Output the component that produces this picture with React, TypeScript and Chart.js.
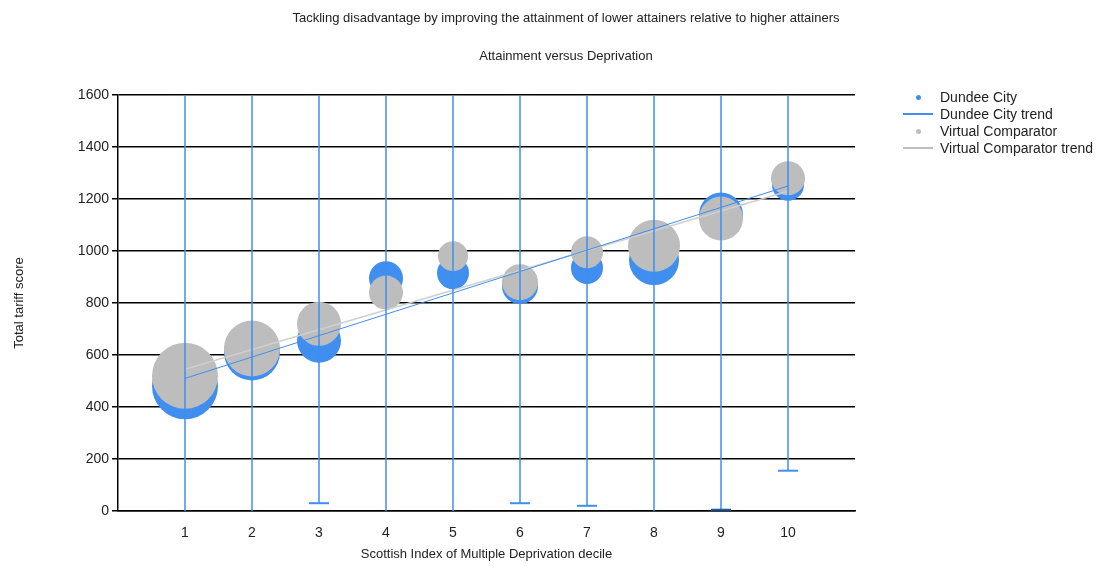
import React, { useEffect, useRef } from 'react';
import { Chart, registerables } from 'chart.js';

Chart.register(...registerables);

const deciles = [1, 2, 3, 4, 5, 6, 7, 8, 9, 10];
const dundeeScore = [480, 610, 655, 895, 915, 865, 935, 965, 1140, 1255];
const dundeeSize = [33, 28, 22, 17, 16, 18, 16, 25, 22, 16];
const comparatorScore = [520, 625, 720, 840, 980, 880, 995, 1020, 1125, 1280];
const comparatorSize = [33, 28, 22, 17, 15, 18, 16, 26, 22, 17];
const dundeeLow = [-50, -50, 30, -50, -50, 30, 20, -50, 5, 155];
const dundeeTrend = [
  { x: 1, y: 510 },
  { x: 10, y: 1250 },
];
const comparatorTrend = [
  { x: 1, y: 545 },
  { x: 10, y: 1230 },
];

const BLUE = '#3f8ef0';
const GREY = '#bdbdbd';
const FONT = '"Liberation Sans", Arial, sans-serif';

const App: React.FC = () => {
  const canvasRef = useRef<HTMLCanvasElement | null>(null);
  const chartInstance = useRef<Chart | null>(null);

  useEffect(() => {
    const canvas = canvasRef.current;
    if (!canvas) return;
    const ctx = canvas.getContext('2d');
    if (!ctx) return;
    if (chartInstance.current) chartInstance.current.destroy();

    chartInstance.current = new Chart(ctx, {
      type: 'bubble',
      data: {
        datasets: [
          {
            type: 'line',
            data: dundeeTrend,
            borderColor: BLUE,
            borderWidth: 1,
            pointRadius: 0,
            order: 0,
          } as any,
          {
            type: 'line',
            data: comparatorTrend,
            borderColor: '#cfcfcf',
            borderWidth: 1.5,
            pointRadius: 0,
            order: 0,
          } as any,
          {
            data: deciles.map((x, i) => ({ x, y: dundeeScore[i], r: dundeeSize[i] })),
            backgroundColor: BLUE,
            borderWidth: 0,
            order: 2,
          },
          {
            data: deciles.map((x, i) => ({ x, y: comparatorScore[i], r: comparatorSize[i] })),
            backgroundColor: GREY,
            borderWidth: 0,
            order: 1,
          },
        ],
      },
      options: {
        animation: false,
        responsive: true,
        maintainAspectRatio: false,
        layout: { padding: { left: 0, right: 261, top: 95, bottom: 0 } },
        plugins: { legend: { display: false }, tooltip: { enabled: false } },
        scales: {
          x: {
            type: 'linear',
            min: 0,
            max: 11,
            afterFit: (s: any) => {
              s.height = 55;
            },
            afterBuildTicks: (s: any) => {
              s.ticks = deciles.map((v) => ({ value: v }));
            },
            ticks: { color: '#222', font: { family: FONT, size: 14 }, padding: 6 },
            grid: { display: false },
            border: { color: '#000', width: 1.5 },
            title: {
              display: true,
              text: 'Scottish Index of Multiple Deprivation decile',
              color: '#222',
              font: { family: FONT, size: 13 },
              padding: { top: 6 },
            },
          },
          y: {
            min: 0,
            max: 1600,
            afterFit: (s: any) => {
              s.width = 118;
            },
            ticks: {
              stepSize: 200,
              color: '#222',
              font: { family: FONT, size: 14 },
              callback: (v: any) => String(v),
            },
            grid: { color: '#000', lineWidth: 1.5, tickLength: 6 },
            border: { color: '#000', width: 1.5 },
            title: {
              display: true,
              text: 'Total tariff score',
              color: '#222',
              font: { family: FONT, size: 13 },
              padding: { top: 12, bottom: 26 },
            },
          },
        },
      },
      plugins: [
        {
          id: 'errorBars',
          afterDatasetsDraw(chart) {
            const { ctx, scales, chartArea } = chart;
            ctx.save();
            ctx.beginPath();
            ctx.rect(chartArea.left, chartArea.top, chartArea.right - chartArea.left, chartArea.bottom - chartArea.top);
            ctx.clip();
            deciles.forEach((d, i) => {
              const x = scales.x.getPixelForValue(d);
              const yLow = scales.y.getPixelForValue(dundeeLow[i]);
              ctx.strokeStyle = BLUE;
              ctx.lineWidth = 1.5;
              ctx.beginPath();
              ctx.moveTo(x, chartArea.top);
              ctx.lineTo(x, yLow);
              ctx.stroke();
              if (dundeeLow[i] >= 0) {
                ctx.strokeStyle = dundeeLow[i] < 10 ? '#1f5fb0' : BLUE;
                ctx.lineWidth = 2;
                ctx.beginPath();
                ctx.moveTo(x - 10, yLow);
                ctx.lineTo(x + 10, yLow);
                ctx.stroke();
              }
            });
            ctx.restore();
          },
        },
      ],
    });

    return () => {
      if (chartInstance.current) chartInstance.current.destroy();
    };
  }, []);

  const legendRow = (kind: 'dot' | 'line', color: string, label: string, top: number) => (
    <div style={{ position: 'absolute', left: 902, top, display: 'flex', alignItems: 'center', height: 16 }}>
      <div style={{ width: 32, display: 'flex', justifyContent: 'center' }}>
        {kind === 'dot' ? (
          <div style={{ width: 5, height: 5, borderRadius: 3, background: color }} />
        ) : (
          <div style={{ width: 30, height: 2, background: color }} />
        )}
      </div>
      <span style={{ marginLeft: 6, fontSize: 14, color: '#222' }}>{label}</span>
    </div>
  );

  return (
    <div style={{ position: 'fixed', left: 0, top: 0, width: 1116, height: 566, background: '#fff', fontFamily: FONT }}>
      <canvas ref={canvasRef} />
      <div style={{ position: 'absolute', left: 0, width: 1132, top: 10, textAlign: 'center', fontSize: 13, color: '#222' }}>
        Tackling disadvantage by improving the attainment of lower attainers relative to higher attainers
      </div>
      <div style={{ position: 'absolute', left: 0, width: 1132, top: 48, textAlign: 'center', fontSize: 13, color: '#222' }}>
        Attainment versus Deprivation
      </div>
      {legendRow('dot', BLUE, 'Dundee City', 89)}
      {legendRow('line', BLUE, 'Dundee City trend', 106)}
      {legendRow('dot', GREY, 'Virtual Comparator', 123)}
      {legendRow('line', GREY, 'Virtual Comparator trend', 140)}
    </div>
  );
};

export default App;
